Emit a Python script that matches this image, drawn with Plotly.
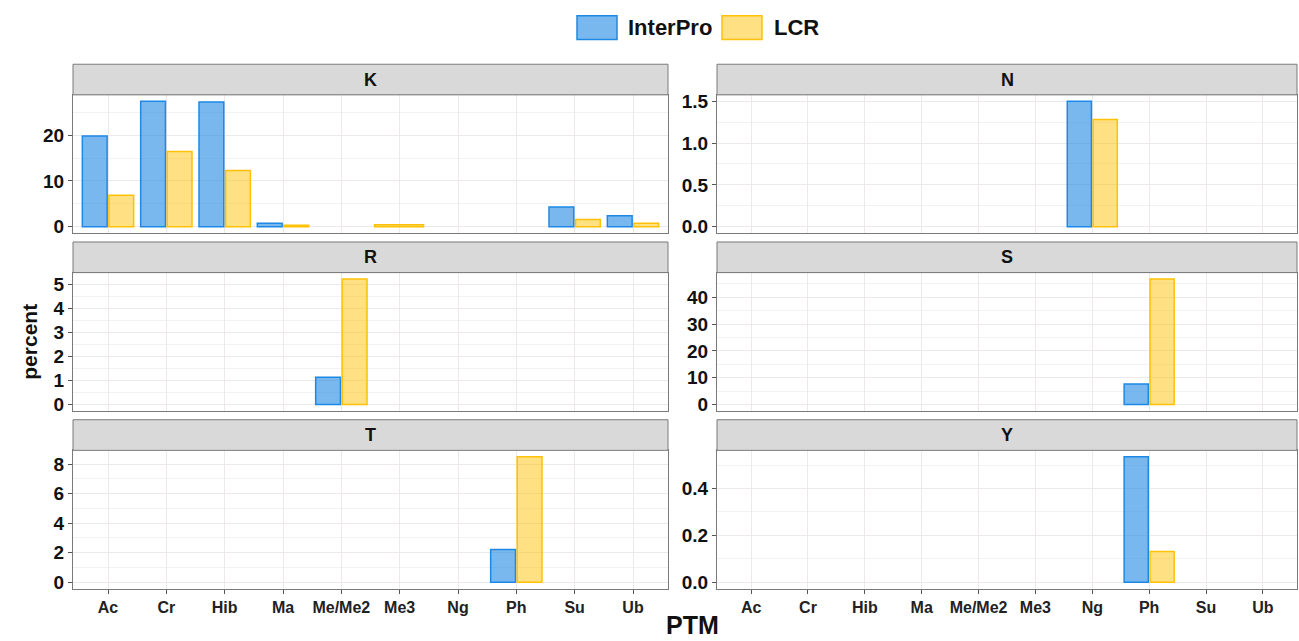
import plotly.graph_objects as go

# ---------------- data ----------------
categories = ["Ac", "Cr", "Hib", "Ma", "Me/Me2", "Me3", "Ng", "Ph", "Su", "Ub"]
panel_names = ["K", "N", "R", "S", "T", "Y"]
series_names = ["InterPro", "LCR"]

K_interpro = [19.8, 27.4, 27.2, 0.8, None, None, None, None, 4.3, 2.4]
K_lcr      = [6.9, 16.4, 12.3, 0.35, None, 0.45, None, None, 1.6, 0.8]
N_interpro = [None, None, None, None, None, None, 1.5, None, None, None]
N_lcr      = [None, None, None, None, None, None, 1.28, None, None, None]
R_interpro = [None, None, None, None, 1.13, None, None, None, None, None]
R_lcr      = [None, None, None, None, 5.22, None, None, None, None, None]
S_interpro = [None, None, None, None, None, None, None, 7.65, None, None]
S_lcr      = [None, None, None, None, None, None, None, 46.9, None, None]
T_interpro = [None, None, None, None, None, None, None, 2.22, None, None]
T_lcr      = [None, None, None, None, None, None, None, 8.5, None, None]
Y_interpro = [None, None, None, None, None, None, None, 0.536, None, None]
Y_lcr      = [None, None, None, None, None, None, None, 0.132, None, None]

y_dticks = [10, 0.5, 1, 10, 2, 0.2]
y_formats = ["d", ".1f", "d", "d", "d", ".1f"]

panel_data = [
    (K_interpro, K_lcr), (N_interpro, N_lcr), (R_interpro, R_lcr),
    (S_interpro, S_lcr), (T_interpro, T_lcr), (Y_interpro, Y_lcr),
]

# ---------------- style ----------------
W, H = 1299, 641
FONT = "Liberation Sans Narrow, Liberation Sans, Arial, sans-serif"
fills = ["rgba(30,136,229,0.6)", "rgba(255,193,7,0.5)"]
lines = ["#1E88E5", "#FFC107"]
GRID = "#EDE8EA"
MINOR = "#F4F1F2"
BORDER = "#7A7A7A"
col_x = [(73, 668), (717, 1297)]
row_y = [(92, 232), (272, 412), (452, 592)]
STRIP_H = 31


def px(x):
    return x / W


def py(y):
    return 1 - y / H


fig = go.Figure()
shapes = []
annotations = []

for i, name in enumerate(panel_names):
    r, c = divmod(i, 2)
    n = i + 1
    sfx = "" if n == 1 else str(n)
    a, b = panel_data[i]
    vals_pair = [a, b]
    for s in range(2):
        vals = vals_pair[s]
        other = vals_pair[1 - s]
        xs, ys, offs, wids = [], [], [], []
        for cat, v, o in zip(categories, vals, other):
            if v is None:
                continue
            xs.append(cat)
            ys.append(v)
            if o is None:
                offs.append(-0.43)
                wids.append(0.84)
            elif s == 0:
                offs.append(-0.44)
                wids.append(0.425)
            else:
                offs.append(0.015)
                wids.append(0.425)
        fig.add_trace(go.Bar(
            x=xs, y=ys, offset=offs, width=wids, name=series_names[s],
            marker=dict(color=fills[s], line=dict(color=lines[s], width=1.5)),
            xaxis="x" + sfx, yaxis="y" + sfx, showlegend=False,
            hovertemplate="%{x}: %{y}<extra>" + series_names[s] + "</extra>",
        ))

    allv = [v for v in a + b if v is not None]
    vmax = max(allv)
    yr = [-0.05 * vmax, 1.05 * vmax]
    bottom = (r == 2)
    x0, x1 = col_x[c]
    yt, yb = row_y[r]
    fig.layout["xaxis" + sfx] = dict(
        domain=[px(x0), px(x1)], anchor="y" + sfx, type="category",
        categoryorder="array", categoryarray=categories, range=[-0.6, 9.6],
        showgrid=True, gridcolor=GRID, gridwidth=1, zeroline=False,
        showline=True, linecolor=BORDER, linewidth=1, mirror=True,
        ticks="outside" if bottom else "", ticklen=4, tickcolor="#555",
        showticklabels=bottom,
        tickfont=dict(family=FONT, size=16, color="#222", weight="bold"),
    )
    fig.layout["yaxis" + sfx] = dict(
        domain=[py(yb), py(yt)], anchor="x" + sfx, range=yr,
        dtick=y_dticks[i], tick0=0, tickformat=y_formats[i],
        showgrid=True, gridcolor=GRID, gridwidth=1, zeroline=False,
        minor=dict(dtick=y_dticks[i] / 2, tick0=0, showgrid=True, gridcolor=MINOR, gridwidth=1),
        showline=True, linecolor=BORDER, linewidth=1, mirror=True,
        ticks="outside", ticklen=4, tickcolor="#555",
        tickfont=dict(family=FONT, size=19, color="#111", weight="bold"),
    )
    # strip
    shapes.append(dict(type="rect", xref="paper", yref="paper",
                       x0=px(x0), x1=px(x1), y0=py(yt), y1=py(yt - STRIP_H),
                       fillcolor="#D9D9D9", line=dict(color=BORDER, width=1), layer="above"))
    annotations.append(dict(text=name, xref="paper", yref="paper",
                            x=px((x0 + x1) / 2), y=py(yt - STRIP_H / 2),
                            showarrow=False, xanchor="center", yanchor="middle",
                            font=dict(family=FONT, size=18, color="#111", weight="bold")))

# manual legend
leg = [(577, 617, 12, 36, 626), (722, 762, 12, 36, 772)]
for s, (lx0, lx1, ly0, ly1, tx) in enumerate(leg):
    shapes.append(dict(type="rect", xref="paper", yref="paper",
                       x0=px(lx0), x1=px(lx1), y0=py(ly1), y1=py(ly0),
                       fillcolor=fills[s], line=dict(color=lines[s], width=1.5)))
    annotations.append(dict(text=series_names[s], xref="paper", yref="paper",
                            x=px(tx), y=py((ly0 + ly1) / 2), showarrow=False,
                            xanchor="left", yanchor="middle",
                            font=dict(family=FONT, size=22, color="#111", weight="bold")))

# axis titles
annotations.append(dict(text="percent", xref="paper", yref="paper", x=px(30), y=py(342),
                        showarrow=False, textangle=-90, xanchor="center", yanchor="middle",
                        font=dict(family=FONT, size=21, color="#111", weight="bold")))
annotations.append(dict(text="PTM", xref="paper", yref="paper", x=px(692), y=py(629),
                        showarrow=False, xanchor="center", yanchor="middle",
                        font=dict(family=FONT, size=25, color="#111", weight="bold")))

fig.update_layout(
    width=W, height=H, margin=dict(l=0, r=0, t=0, b=0),
    paper_bgcolor="white", plot_bgcolor="white",
    barmode="overlay", shapes=shapes, annotations=annotations,
    font=dict(family=FONT, color="#111"),
    showlegend=False,
)

fig.write_html("out.html", config={"displayModeBar": False},
               post_script="document.body.style.margin='0';document.body.style.overflow='hidden';")
